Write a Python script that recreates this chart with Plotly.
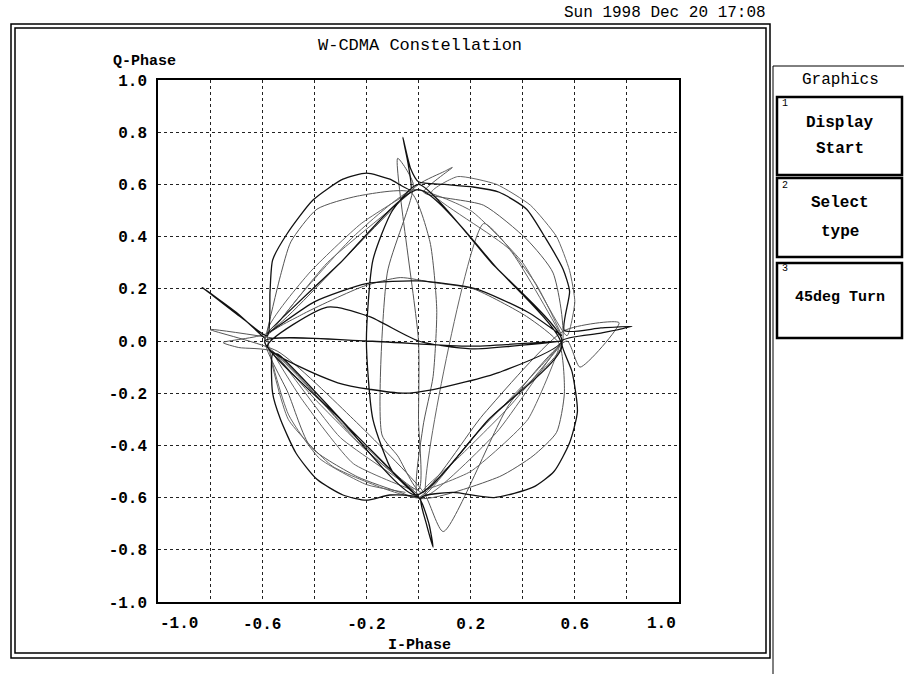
import plotly.graph_objects as go

# ---------------- data ----------------
x_tick_values = [-1.0, -0.8, -0.6, -0.4, -0.2, 0.0, 0.2, 0.4, 0.6, 0.8, 1.0]
x_tick_labels = ["", "", "-0.6", "", "-0.2", "", "0.2", "", "0.6", "", ""]
x_end_labels = ["-1.0", "1.0"]
y_tick_values = [-1.0, -0.8, -0.6, -0.4, -0.2, 0.0, 0.2, 0.4, 0.6, 0.8, 1.0]
y_tick_labels = ["-1.0", "-0.8", "-0.6", "-0.4", "-0.2", "0.0", "0.2", "0.4", "0.6", "0.8", "1.0"]

# trajectory, dark strokes
i_dark = [-0.59, -0.70, -0.83, -0.81, -0.68, -0.58, -0.57, -0.56, -0.505, -0.405, -0.29, -0.20, -0.11, -0.03,
          -0.04, -0.06, -0.03, 0.00, 0.10, 0.21, 0.31, 0.415, 0.49, 0.555, 0.58, 0.56,
          0.70, 0.82, 0.70, 0.55, 0.59, 0.61, 0.58, 0.52, 0.44, 0.29, 0.13, 0.01,
          0.03, 0.056, 0.04, 0.00, -0.11, -0.20, -0.29, -0.39, -0.47, -0.53, -0.56, -0.56,
          -0.54, -0.27, 0.00, -0.10, -0.175, -0.20, -0.175, -0.10, 0.00,
          0.28, 0.55, 0.31, 0.056, -0.06, -0.31, -0.58,
          -0.35, -0.19, 0.00, 0.20, 0.55, 0.20, -0.20, -0.59,
          -0.30, -0.01, 0.27, 0.55, 0.30, 0.00, -0.30, -0.58,
          -0.40, -0.20, 0.00, 0.22, 0.42, 0.55]
q_dark = [0.01, 0.11, 0.205, 0.19, 0.09, 0.02, 0.19, 0.31, 0.41, 0.54, 0.62, 0.643, 0.62, 0.58,
          0.68, 0.78, 0.66, 0.61, 0.60, 0.59, 0.57, 0.505, 0.39, 0.275, 0.19, 0.04,
          0.05, 0.056, 0.03, 0.00, -0.12, -0.27, -0.39, -0.50, -0.56, -0.60, -0.58, -0.60,
          -0.70, -0.79, -0.70, -0.60, -0.59, -0.61, -0.59, -0.53, -0.43, -0.30, -0.20, -0.05,
          -0.05, -0.33, -0.60, -0.50, -0.30, 0.00, 0.31, 0.50, 0.60,
          0.30, 0.00, -0.12, -0.186, -0.20, -0.16, -0.02,
          0.13, 0.094, 0.00, -0.03, 0.00, -0.02, 0.00, 0.00,
          -0.30, -0.59, -0.30, -0.02, 0.28, 0.58, 0.30, 0.03,
          0.15, 0.22, 0.23, 0.20, 0.11, 0.02]

# trajectory, lighter strokes
i_light = [-0.59, -0.53, -0.49, -0.39, -0.235, -0.03, 0.044, 0.07, 0.056, 0.017, 0.00,
           0.31, 0.44, 0.53, 0.56, 0.54, 0.415, 0.21, 0.056, -0.07, -0.21, -0.45, -0.59,
           -0.50, -0.415, -0.235, -0.07, 0.00, 0.27, 0.55, 0.517, 0.415, 0.25, 0.02,
           0.13, 0.10, 0.00, -0.30, -0.58, -0.75, -0.69, -0.56, -0.28, 0.00,
           0.00, 0.00, -0.08, -0.02, -0.12, -0.14, -0.08, 0.01, 0.25, 0.56,
           0.77, 0.62, 0.57, 0.35, 0.095, 0.02, -0.25, -0.54, -0.80, -0.55]
q_light = [0.00, 0.25, 0.38, 0.505, 0.555, 0.57, 0.38, 0.12, -0.136, -0.33, -0.60,
           -0.52, -0.44, -0.35, -0.20, -0.01, 0.094, 0.20, 0.224, 0.243, 0.21, 0.10, 0.01,
           -0.20, -0.405, -0.52, -0.58, -0.60, -0.30, -0.02, 0.26, 0.39, 0.52, 0.57,
           0.665, 0.65, 0.60, 0.30, 0.03, -0.006, -0.025, -0.04, -0.33, -0.57,
           -0.30, 0.00, 0.70, 0.60, 0.26, -0.36, -0.44, -0.58, -0.28, 0.04,
           0.07, -0.10, 0.00, -0.24, -0.73, -0.58, -0.30, -0.04, 0.044, 0.01]

# trajectory, bundles between neighbouring symbols
i_bundle = [-0.55, -0.40, -0.20, 0.00, -0.22, -0.42, -0.56, -0.45, -0.25, -0.02, -0.30, -0.57,
            -0.50, -0.33, -0.12, 0.01, 0.20, 0.42, 0.55, 0.35, 0.15, 0.02, 0.20, 0.42, 0.54,
            0.30, 0.03, 0.25, 0.45, 0.55, 0.35, 0.05, 0.15, 0.30, 0.43, 0.53, 0.58, 0.60, 0.57,
            0.40, 0.20, -0.02, -0.25, -0.45, -0.57, -0.35, -0.03, -0.22, -0.42, -0.58,
            -0.50, -0.38, -0.20, -0.05]
q_bundle = [-0.05, -0.22, -0.42, -0.59, -0.40, -0.18, -0.04, -0.22, -0.47, -0.57, -0.37, -0.03,
            -0.30, -0.48, -0.57, -0.60, -0.38, -0.15, -0.01, -0.25, -0.45, -0.57, -0.50, -0.30, -0.02,
            -0.35, -0.59, 0.45, 0.22, 0.02, 0.35, 0.57, 0.63, 0.60, 0.52, 0.40, 0.27, 0.15, 0.02,
            0.30, 0.50, 0.58, 0.40, 0.18, 0.03, 0.30, 0.57, 0.45, 0.26, 0.04,
            -0.28, -0.45, -0.55, -0.58]

# ---------------- figure ----------------
fig = go.Figure()
fig.add_trace(go.Scatter(x=i_bundle, y=q_bundle, mode="lines",
                         line=dict(color="#666666", width=1, shape="spline", smoothing=0.5),
                         hoverinfo="skip", showlegend=False))
fig.add_trace(go.Scatter(x=i_light, y=q_light, mode="lines",
                         line=dict(color="#555555", width=1, shape="spline", smoothing=0.6),
                         hoverinfo="skip", showlegend=False))
fig.add_trace(go.Scatter(x=i_dark, y=q_dark, mode="lines",
                         line=dict(color="#111111", width=1.3, shape="spline", smoothing=0.6),
                         hoverinfo="skip", showlegend=False))

W, H = 904, 674
PL, PR, PT, PB = 158, 679, 80, 602


def px(p):
    return (p - PL) / (PR - PL)


def py(p):
    return (PB - p) / (PB - PT)


FONT = "Liberation Mono"
shapes = []


def rect(x0, y0, x1, y1, w):
    shapes.append(dict(type="rect", xref="paper", yref="paper",
                       x0=px(x0), x1=px(x1), y0=py(y0), y1=py(y1),
                       line=dict(color="black", width=w), fillcolor="rgba(0,0,0,0)", layer="above"))


def line(x0, y0, x1, y1, w):
    shapes.append(dict(type="line", xref="paper", yref="paper",
                       x0=px(x0), x1=px(x1), y0=py(y0), y1=py(y1),
                       line=dict(color="black", width=w), layer="above"))


rect(11, 24, 770, 658, 1.5)
rect(15, 28, 766, 653, 1.5)
line(773, 66, 773, 674, 1)
line(773, 66, 904, 66, 1)
rect(777, 97, 902, 175, 2.5)
rect(777, 178, 902, 257, 2.5)
rect(777, 263, 902, 338, 2.5)

annotations = []


def text(s, x, y, size=16, anchor="center", bold=False):
    annotations.append(dict(text=("<b>%s</b>" % s) if bold else s, xref="paper", yref="paper",
                            x=px(x), y=py(y), xanchor=anchor, yanchor="middle",
                            showarrow=False, font=dict(family=FONT, size=size, color="black")))


text("Sun 1998 Dec 20 17:08", 768, 13, 16, "right")
text("W-CDMA Constellation", 420, 45, 17)
text("Q-Phase", 144, 62, 15, bold=True)
text("I-Phase", 419, 645, 15, bold=True)
text(x_end_labels[0], 179, 624, 16, bold=True)
text(x_end_labels[1], 661, 624, 16, bold=True)
text("Graphics", 840, 80, 16)
text("Display", 840, 123, 16, bold=True)
text("Start", 840, 149, 16, bold=True)
text("Select", 840, 203, 16, bold=True)
text("type", 840, 232, 16, bold=True)
text("45deg Turn", 840, 297, 15, bold=True)
text("1", 785, 103, 10, "center")
text("2", 785, 185, 10, "center")
text("3", 785, 268, 10, "center")

axis_common = dict(range=[-1, 1], showgrid=True, gridcolor="#222222", griddash="dot", gridwidth=1,
                   zeroline=False, showline=True, linecolor="black", linewidth=1.5, mirror=True,
                   ticks="", tickfont=dict(family=FONT, size=16, color="black"), fixedrange=True)

fig.update_layout(
    width=W, height=H,
    margin=dict(l=PL, r=W - PR, t=PT, b=H - PB, pad=0),
    paper_bgcolor="white", plot_bgcolor="white",
    xaxis=dict(axis_common, tickvals=x_tick_values, ticktext=["<b>%s</b>" % t if t else "" for t in x_tick_labels],
               ticklabelstandoff=6),
    yaxis=dict(axis_common, tickvals=y_tick_values, ticktext=["<b>%s</b>" % t for t in y_tick_labels],
               ticklabelstandoff=6),
    shapes=shapes, annotations=annotations, showlegend=False,
)

fig.write_html("out.html", post_script="document.body.style.margin='0px';",
               config={"displayModeBar": False})
